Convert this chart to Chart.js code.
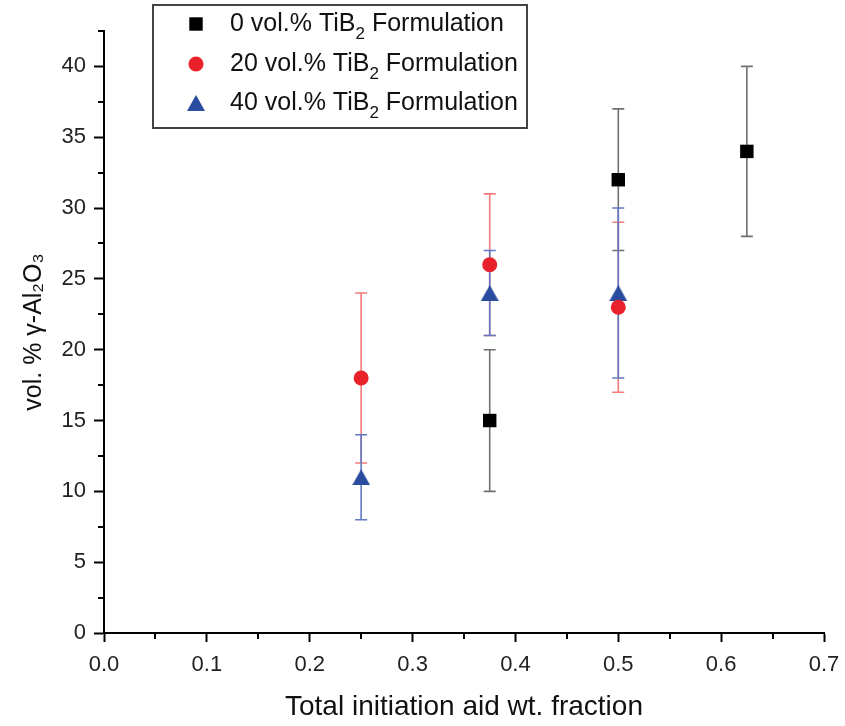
<!DOCTYPE html>
<html>
<head>
<meta charset="utf-8">
<script src="https://cdn.jsdelivr.net/npm/chart.js@4.4.1/dist/chart.umd.min.js"></script>
<style>
    html, body { margin: 0; padding: 0; background: #fff; }
    #wrap { width: 845px; height: 726px; }
</style>
</head>
<body>
<div id="wrap"><canvas id="chart" width="845" height="726"></canvas></div>
<script>
// Data
const seriesNames = ['0 vol.% TiB₂ Formulation', '20 vol.% TiB₂ Formulation', '40 vol.% TiB₂ Formulation'];

const xBlack = [0.375, 0.5, 0.625];
const yBlack = [15, 32, 34];
const errBlack = [5, 5, 6];

const xRed = [0.25, 0.375, 0.5];
const yRed = [18, 26, 23];
const errRed = [6, 5, 6];

const xBlue = [0.25, 0.375, 0.5];
const yBlue = [11, 24, 24];
const errBlue = [3, 3, 6];

const xTitle = 'Total initiation aid wt. fraction';
const yTitle = 'vol. % γ-Al₂O₃';

// Styles
const FONT = "'Liberation Sans', Arial, sans-serif";
const markerColors = ['#000000', '#e8212b', '#2a4c9f'];
const barColors = ['#707070', '#f27a7a', '#6379c4'];
const errors = [errBlack, errRed, errBlue];

// Triangle centred on its bounding box (Chart.js centres it on the circumcircle)
function makeTriangle(w, h, color) {
    const c = document.createElement('canvas');
    c.width = w; c.height = h;
    const g = c.getContext('2d');
    g.fillStyle = color;
    g.beginPath();
    g.moveTo(w / 2, 0);
    g.lineTo(w, h);
    g.lineTo(0, h);
    g.closePath();
    g.fill();
    return c;
}

const markerStyles = ['rect', 'circle', makeTriangle(18, 16, markerColors[2])];
const markerRadius = [9.5, 7.5, 9];

function toPoints(xs, ys) {
    return xs.map((x, i) => ({ x: x, y: ys[i] }));
}

const datasets = [
    toPoints(xBlack, yBlack),
    toPoints(xRed, yRed),
    toPoints(xBlue, yBlue)
].map((pts, i) => ({
    label: seriesNames[i],
    data: pts,
    pointStyle: markerStyles[i],
    pointRadius: markerRadius[i],
    pointHoverRadius: markerRadius[i],
    backgroundColor: markerColors[i],
    borderColor: markerColors[i],
    borderWidth: 0,
    showLine: false
}));

// Vertical error bars with caps, drawn under the markers
const errorBars = {
    id: 'errorBars',
    beforeDatasetsDraw(chart) {
        const ctx = chart.ctx;
        const xs = chart.scales.x, ys = chart.scales.y;
        ctx.save();
        chart.data.datasets.forEach((ds, i) => {
            ctx.strokeStyle = barColors[i];
            ctx.lineWidth = 1.6;
            ds.data.forEach((p, j) => {
                const e = errors[i][j];
                const px = xs.getPixelForValue(p.x);
                const top = ys.getPixelForValue(p.y + e);
                const bot = ys.getPixelForValue(p.y - e);
                ctx.beginPath();
                ctx.moveTo(px, top); ctx.lineTo(px, bot);
                ctx.moveTo(px - 6, top); ctx.lineTo(px + 6, top);
                ctx.moveTo(px - 6, bot); ctx.lineTo(px + 6, bot);
                ctx.stroke();
            });
        });
        ctx.restore();
    }
};

// Short minor ticks between the labelled ones
const minorTicks = {
    id: 'minorTicks',
    afterDraw(chart) {
        const ctx = chart.ctx;
        const xs = chart.scales.x, ys = chart.scales.y;
        const area = chart.chartArea;
        ctx.save();
        ctx.strokeStyle = '#000';
        ctx.lineWidth = 2;
        ctx.beginPath();
        ys.ticks.forEach(t => {
            if (t.value % 5 !== 0) {
                const py = Math.round(ys.getPixelForValue(t.value));
                ctx.moveTo(area.left - 6, py); ctx.lineTo(area.left, py);
            }
        });
        xs.ticks.forEach(t => {
            if (Math.round(t.value * 100) % 10 !== 0) {
                const px = Math.round(xs.getPixelForValue(t.value));
                ctx.moveTo(px, area.bottom); ctx.lineTo(px, area.bottom + 6);
            }
        });
        ctx.stroke();
        ctx.restore();
    }
};

function drawMarker(ctx, i, x, y) {
    const style = markerStyles[i];
    const r = markerRadius[i];
    if (typeof style !== 'string') {
        ctx.drawImage(style, x - style.width / 2, y - style.height / 2);
        return;
    }
    ctx.beginPath();
    if (style === 'rect') {
        const s = r * Math.SQRT1_2;
        ctx.rect(x - s, y - s, 2 * s, 2 * s);
    } else {
        ctx.arc(x, y, r, 0, Math.PI * 2);
    }
    ctx.fill();
}

// Boxed legend inside the plot, with subscript 2
const boxLegend = {
    id: 'boxLegend',
    afterDraw(chart) {
        const ctx = chart.ctx;
        ctx.save();
        ctx.strokeStyle = '#444';
        ctx.lineWidth = 2;
        ctx.fillStyle = '#fff';
        ctx.fillRect(153, 5, 374, 123);
        ctx.strokeRect(153, 5, 374, 123);
        const rows = [24, 64, 103];
        chart.data.datasets.forEach((ds, i) => {
            const y = rows[i];
            ctx.fillStyle = markerColors[i];
            drawMarker(ctx, i, 196, y);
            const parts = ds.label.split('₂');
            ctx.fillStyle = '#111';
            ctx.textBaseline = 'middle';
            ctx.font = '25px ' + FONT;
            let x = 230;
            ctx.fillText(parts[0], x, y);
            x += ctx.measureText(parts[0]).width;
            ctx.font = '17px ' + FONT;
            ctx.fillText('2', x, y + 10);
            x += ctx.measureText('2').width;
            ctx.font = '25px ' + FONT;
            ctx.fillText(parts[1], x, y);
        });
        ctx.restore();
    }
};

new Chart(document.getElementById('chart'), {
    type: 'scatter',
    data: { datasets: datasets },
    options: {
        responsive: false,
        animation: false,
        layout: { padding: { top: 31, right: 21, left: 0, bottom: 0 } },
        plugins: {
            legend: { display: false },
            tooltip: { enabled: false }
        },
        scales: {
            x: {
                type: 'linear',
                min: 0,
                max: 0.7,
                afterFit: s => { s.height = 93; s.paddingLeft = 0; s.paddingRight = 0; },
                border: { display: true, color: '#000', width: 2 },
                grid: {
                    drawOnChartArea: false,
                    tickLength: 9,
                    tickWidth: 2,
                    tickColor: c => (c.tick && Math.round(c.tick.value * 100) % 10 === 0) ? '#000' : 'rgba(0,0,0,0)'
                },
                ticks: {
                    stepSize: 0.05,
                    autoSkip: false,
                    maxRotation: 0,
                    padding: 10,
                    color: '#222',
                    font: { family: FONT, size: 22 },
                    callback: v => Math.round(v * 100) % 10 === 0 ? v.toFixed(1) : ''
                },
                title: {
                    display: true,
                    text: xTitle,
                    color: '#111',
                    font: { family: FONT, size: 28 },
                    padding: { top: 0, bottom: 2 }
                }
            },
            y: {
                min: 0,
                max: 42.5,
                afterFit: s => { s.width = 104; s.paddingTop = 0; s.paddingBottom = 0; },
                border: { display: true, color: '#000', width: 2 },
                grid: {
                    drawOnChartArea: false,
                    tickLength: 10,
                    tickWidth: 2,
                    tickColor: c => (c.tick && c.tick.value % 5 === 0) ? '#000' : 'rgba(0,0,0,0)'
                },
                ticks: {
                    stepSize: 2.5,
                    autoSkip: false,
                    padding: 8,
                    color: '#222',
                    font: { family: FONT, size: 22 },
                    callback: v => v % 5 === 0 ? String(v) : ''
                },
                title: {
                    display: true,
                    text: yTitle,
                    color: '#111',
                    font: { family: FONT, size: 25 },
                    padding: { top: 19, bottom: 0 }
                }
            }
        }
    },
    plugins: [errorBars, minorTicks, boxLegend]
});
</script>
</body>
</html>
